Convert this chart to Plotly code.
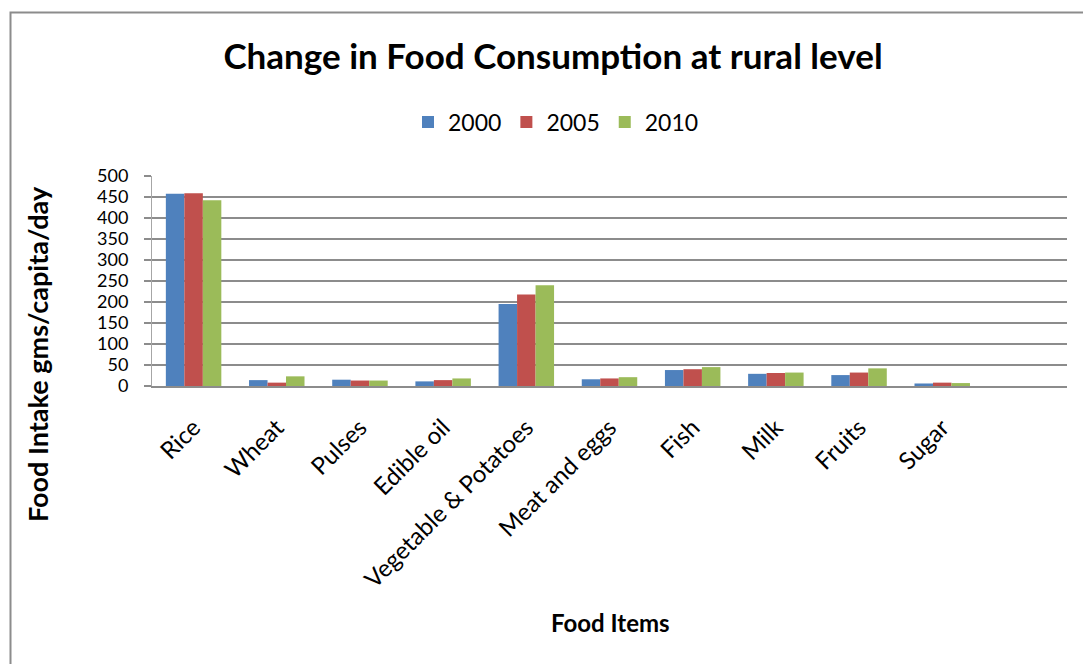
import plotly.graph_objects as go

categories = ["Rice", "Wheat", "Pulses", "Edible oil", "Vegetable & Potatoes",
              "Meat and eggs", "Fish", "Milk", "Fruits", "Sugar"]
series_names = ["2000", "2005", "2010"]
v2000 = [458, 14, 15, 11, 195, 16, 38, 29, 26, 6]
v2005 = [459, 8, 13, 14, 218, 18, 40, 31, 32, 8]
v2010 = [442, 23, 13, 18, 240, 21, 45, 32, 42, 7]
colors = ["#4F81BD", "#C0504D", "#9BBB59"]
y_ticks = [0, 50, 100, 150, 200, 250, 300, 350, 400, 450, 500]

W, H = 1083, 664
L, R, T, B = 152, 16, 176, 278
pw, ph = W - L - R, H - T - B

FONT = "Lato"

fig = go.Figure()
for name, vals, col in zip(series_names, [v2000, v2005, v2010], colors):
    fig.add_trace(go.Bar(x=categories, y=vals, name=name,
                         marker=dict(color=col, line=dict(width=0))))

def px_x(p):
    return (p - L) / pw

def px_y(p):
    return (H - B - p) / ph

fig.update_layout(
    width=W, height=H,
    margin=dict(l=L, r=R, t=T, b=B, autoexpand=False),
    paper_bgcolor="white", plot_bgcolor="white",
    font=dict(family=FONT, color="black"),
    barmode="group", bargap=0.333, bargroupgap=0,
    title=dict(text="<b>Change in Food Consumption at rural level</b>",
               x=px_x(553), xref="paper", xanchor="center",
               y=1 - 57 / H, yref="container", yanchor="middle",
               font=dict(size=35, family=FONT, color="black")),
    legend=dict(orientation="h", xref="paper", x=px_x(556), xanchor="center",
                yref="container", y=1 - 122 / H, yanchor="middle",
                font=dict(size=23, family=FONT, color="black"),
                itemclick=False, traceorder="normal"),
    xaxis=dict(type="category", categoryorder="array", categoryarray=categories,
               range=[-0.5, 10.5], tickangle=-45,
               tickfont=dict(size=24, family=FONT, color="black"),
               showline=True, linecolor="#8C8C8C", linewidth=2,
               ticks="", ticklabelstandoff=16, showgrid=False),
    yaxis=dict(range=[0, 500], tickvals=y_ticks,
               tickfont=dict(size=18, family=FONT, color="black"),
               showgrid=True, gridcolor="#8C8C8C", gridwidth=1.5,
               showline=True, linecolor="#A6A6A6", linewidth=1,
               ticks="outside", ticklen=7, tickcolor="#8C8C8C", tickwidth=1.5,
               ticklabelstandoff=12, zeroline=False),
)

fig.add_annotation(text="<b>Food Intake gms/capita/day</b>", textangle=-90,
                   xref="paper", yref="paper", x=px_x(37), y=px_y(354),
                   xanchor="center", yanchor="middle", showarrow=False,
                   font=dict(size=27, family=FONT, color="black"))
fig.add_annotation(text="<b>Food Items</b>",
                   xref="paper", yref="paper", x=px_x(610), y=px_y(622),
                   xanchor="center", yanchor="middle", showarrow=False,
                   font=dict(size=24, family=FONT, color="black"))

# outer chart border (cut off at right/bottom as in reference)
fig.add_shape(type="rect", xref="paper", yref="paper",
              x0=px_x(10.5), x1=px_x(W + 20), y0=px_y(H + 20), y1=px_y(12.5),
              line=dict(color="#8C8C8C", width=2), fillcolor="rgba(0,0,0,0)",
              layer="below")

fig.write_html("out.html")
